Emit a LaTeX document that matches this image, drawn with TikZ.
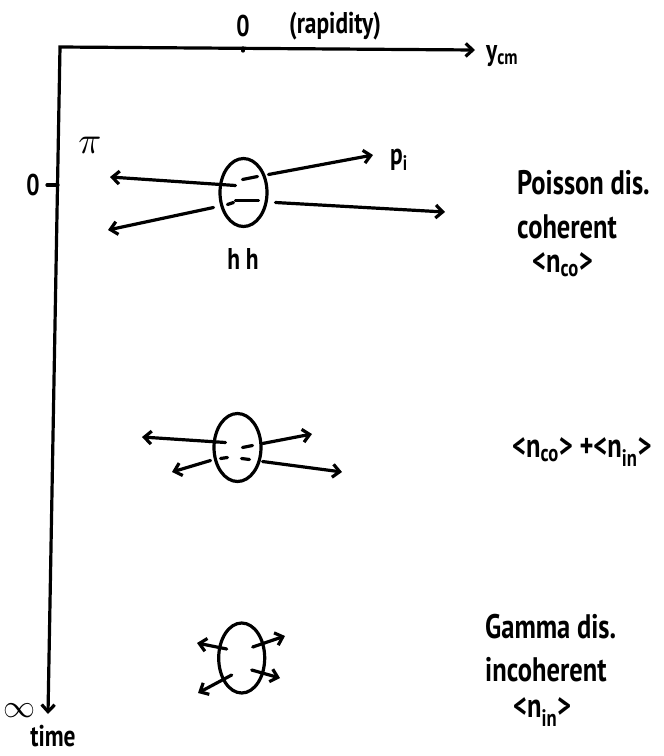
\documentclass[tikz,border=0pt]{standalone}
\usepackage{fontspec}
\usepackage{tikz}
\usetikzlibrary{arrows.meta,shapes.geometric,calc}
\newfontfamily\hand[FakeStretch=0.78]{PT Sans}

\begin{document}
\begin{tikzpicture}[
  x=1pt,y=-1pt,
  ink/.style={line width=3.2pt,line cap=round},
  axis/.style={ink,{Straight Barb[length=7pt,width=13pt]}-{Straight Barb[length=7pt,width=13pt]}},
  arr/.style={ink,-{Straight Barb[length=7pt,width=13pt]}},
  blob/.style={ellipse,draw,ink,minimum width=47pt,minimum height=68pt,inner sep=0pt},
  lbl/.style={font=\hand\bfseries\fontsize{30}{32}\selectfont,inner sep=0pt},
  sym/.style={inner sep=0pt},
  side/.style={font=\hand\bfseries\fontsize{34}{36}\selectfont,inner sep=0pt,anchor=west}]
  \useasboundingbox (0,0) rectangle (664,756);
  % axes
  \coordinate (origin) at (60,47);
  \coordinate (yend) at (475,50);
  \coordinate (tend) at (48,714);
  \draw[axis] (tend) -- (origin) -- (yend);
  \coordinate (ytick) at (243,48);
  \draw[ink] (ytick) -- ++(0,3);
  \coordinate (ttick) at (58,185);
  \draw[ink] (ttick) -- ++(-11,0);
  \node[lbl] (yzero) at (243,26) {0};
  \node[lbl] (rap) at (335,26) {(rapidity)};
  \node[lbl,anchor=west] (ycm) at (486,56) {y\textsubscript{cm}};
  \node[lbl] (tzero) at (33,185) {0};
  \node[sym] (inf) at (19,711) {\scalebox{3.2}{$\infty$}};
  \node[lbl] (time) at (53,736) {time};
  % t = 0 : collision
  \node[blob] (hh) at (243.5,192.5) {};
  \node[lbl] (hhl) at (243,259) {h h};
  \node[sym] (pi) at (90,145) {\scalebox{3.8}{$\pi$}};
  \node[lbl] (pl) at (399,160) {p\textsubscript{i}};
  \coordinate (a1) at (110,177);
  \coordinate (a2) at (108,230);
  \coordinate (a3) at (373,155);
  \coordinate (a4) at (445,212);
  \draw[arr] ([shift={(-8,-7)}]hh.center) -- (a1);
  \draw[arr] ([shift={(-30,15)}]hh.center) -- (a2);
  \draw[arr] ([shift={(25,-18)}]hh.center) -- (a3);
  \draw[arr] ([shift={(32,10)}]hh.center) -- (a4);
  \draw[ink] ([shift={(-1,-13)}]hh.center) -- ++(15,-3);
  \draw[ink] ([shift={(-16,12)}]hh.center) -- ++(6,-2);
  \draw[ink] ([shift={(-8,8)}]hh.center) -- ++(23,0);
  % intermediate
  \node[blob] (mid) at (237.5,447.5) {};
  \coordinate (b1) at (142,437);
  \coordinate (b2) at (172,472);
  \coordinate (b3) at (312,434);
  \coordinate (b4) at (342,472);
  \draw[arr] ([shift={(-12,-5)}]mid.center) -- (b1);
  \draw[arr] ([shift={(-27,13)}]mid.center) -- (b2);
  \draw[arr] ([shift={(25,-4)}]mid.center) -- (b3);
  \draw[arr] ([shift={(25,14)}]mid.center) -- (b4);
  \draw[ink] ([shift={(-17,11)}]mid.center) -- ++(7,-1);
  \draw[ink] ([shift={(5,0)}]mid.center) -- ++(10,-2);
  \draw[ink] ([shift={(4,11)}]mid.center) -- ++(8,1);
  % t -> infinity
  \node[blob,minimum height=70pt,minimum width=46pt] (late) at (241.7,658) {};
  \coordinate (c1) at (197,643);
  \coordinate (c2) at (198,693);
  \coordinate (c3) at (285,636);
  \coordinate (c4) at (280,678);
  \draw[arr] ([shift={(-15,-9)}]late.center) -- (c1);
  \draw[arr] ([shift={(-10,17)}]late.center) -- (c2);
  \draw[arr] ([shift={(11,-11)}]late.center) -- (c3);
  \draw[arr] ([shift={(10,12)}]late.center) -- (c4);
  % right column
  \node[side] (poi) at (517,183) {Poisson dis.};
  \node[side] (coh) at (517,227) {coherent};
  \node[side] (nco) at (532,265) {<n\textsubscript{co}>};
  \node[side] (sum) at (512,452) {<n\textsubscript{co}> +<n\textsubscript{in}>};
  \node[side] (gam) at (485,627) {Gamma dis.};
  \node[side] (inc) at (485,670) {incoherent};
  \node[side] (nin) at (513,712) {<n\textsubscript{in}>};
\end{tikzpicture}
\end{document}
